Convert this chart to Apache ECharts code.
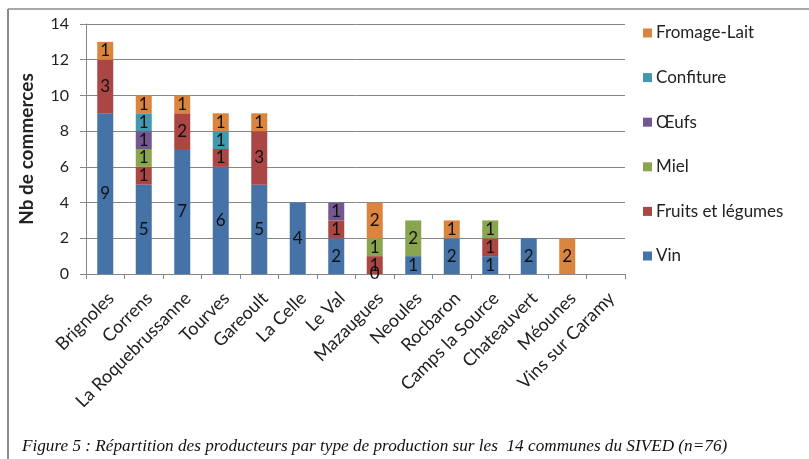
<!DOCTYPE html>
<html>
<head>
<meta charset="utf-8">
<script src="https://cdn.jsdelivr.net/npm/echarts@6/dist/echarts.min.js"></script>
<style>
  html, body { margin: 0; padding: 0; background: #fff; }
  #chart { width: 809px; height: 459px; }
</style>
</head>
<body>
<div id="chart"></div>
<script>
// Communes du SIVED
const communes = ['Brignoles', 'Correns', 'La Roquebrussanne', 'Tourves', 'Gareoult', 'La Celle', 'Le Val',
  'Mazaugues', 'Neoules', 'Rocbaron', 'Camps la Source', 'Chateauvert', 'Méounes', 'Vins sur Caramy'];

// Nombre de producteurs par type (null = aucune donnée saisie)
const vin       = [9, 5, 7, 6, 5, 4, 2, 0, 1, 2, 1, 2, null, null];
const fruitsLeg = [3, 1, 2, 1, 3, null, 1, 1, null, null, 1, null, null, null];
const miel      = [null, 1, null, null, null, null, null, 1, 2, null, 1, null, null, null];
const oeufs     = [null, 1, null, null, null, null, 1, null, null, null, null, null, null, null];
const confiture = [null, 1, null, 1, null, null, null, null, null, null, null, null, null, null];
const fromage   = [1, 1, 1, 1, 1, null, null, 2, null, 1, null, null, 2, null];

const yTicks = [0, 2, 4, 6, 8, 10, 12, 14];
const caption = 'Figure 5 : Répartition des producteurs par type de production sur les  14 communes du SIVED (n=76)';

const seriesDefs = [
  { name: 'Vin', data: vin, color: '#4572A7' },
  { name: 'Fruits et légumes', data: fruitsLeg, color: '#AA4643' },
  { name: 'Miel', data: miel, color: '#89A54E' },
  { name: 'Œufs', data: oeufs, color: '#71588F' },
  { name: 'Confiture', data: confiture, color: '#4198AF' },
  { name: 'Fromage-Lait', data: fromage, color: '#DB843D' }
];

const font = 'Lato, "Open Sans", sans-serif';
const chart = echarts.init(document.getElementById('chart'), null, { renderer: 'canvas' });

chart.setOption({
  backgroundColor: '#ffffff',
  animation: false,
  grid: { left: 86, right: 184, top: 24, bottom: 185, containLabel: false },
  legend: {
    orient: 'vertical',
    left: 638,
    top: 18,
    itemWidth: 9,
    itemHeight: 9,
    itemGap: 24.6,
    icon: 'rect',
    data: seriesDefs.map(s => s.name).reverse(),
    textStyle: { fontFamily: font, fontSize: 17, color: '#222', lineHeight: 20, padding: [0, 0, 0, -1] }
  },
  xAxis: {
    type: 'category',
    data: communes,
    axisLine: { lineStyle: { color: '#868686', width: 1 } },
    axisTick: { show: true, length: 5, alignWithLabel: false, lineStyle: { color: '#868686' } },
    axisLabel: { interval: 0, rotate: 45, margin: 27, padding: [0, -8, 0, 0], fontFamily: font, fontSize: 18, color: '#222' }
  },
  yAxis: {
    type: 'value',
    min: yTicks[0],
    max: yTicks[yTicks.length - 1],
    interval: 2,
    name: 'Nb de commerces',
    nameLocation: 'middle',
    nameGap: 50,
    nameTextStyle: { fontFamily: font, fontSize: 19, fontWeight: 'bold', color: '#222' },
    axisLine: { show: true, lineStyle: { color: '#868686' } },
    axisTick: { show: true, length: 6, lineStyle: { color: '#868686' } },
    axisLabel: { fontFamily: font, fontSize: 16, color: '#222', margin: 17 },
    splitLine: { lineStyle: { color: '#868686', width: 1 } }
  },
  series: seriesDefs.map(s => ({
    name: s.name,
    type: 'bar',
    stack: 'total',
    barWidth: 16,
    data: s.data,
    itemStyle: { color: s.color },
    label: {
      show: true,
      position: 'inside',
      fontFamily: font,
      fontSize: 17,
      color: '#111'
    }
  })),
  graphic: [
    { type: 'line', shape: { x1: 8, y1: 9, x2: 809, y2: 9 }, style: { stroke: '#8a8a8a', lineWidth: 1.5 } },
    { type: 'line', shape: { x1: 8, y1: 9, x2: 8, y2: 459 }, style: { stroke: '#8a8a8a', lineWidth: 2 } },
    {
      type: 'text', left: 22, top: 438,
      style: {
        text: caption,
        font: 'italic 17.2px "Liberation Serif", "DejaVu Serif", serif',
        fill: '#111'
      }
    }
  ]
});
</script>
</body>
</html>
